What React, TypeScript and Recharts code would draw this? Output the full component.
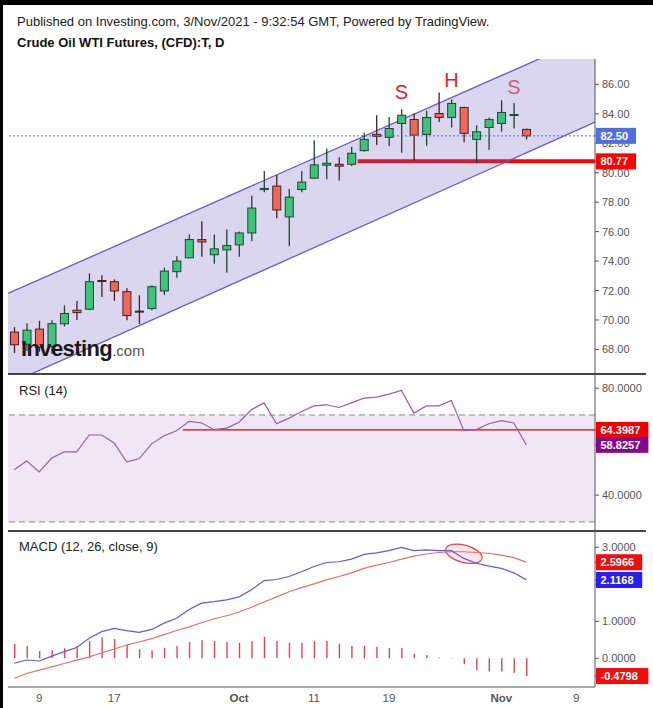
import React from "react";
import {
  ComposedChart,
  Bar,
  Line,
  XAxis,
  YAxis,
  ReferenceLine,
  ReferenceArea,
  ReferenceDot,
} from "recharts";

// trading days shown on the chart (last five are empty future slots)
const DATES = [
  "2021-09-07", "2021-09-08", "2021-09-09", "2021-09-10", "2021-09-13", "2021-09-14",
  "2021-09-15", "2021-09-16", "2021-09-17", "2021-09-20", "2021-09-21", "2021-09-22",
  "2021-09-23", "2021-09-24", "2021-09-27", "2021-09-28", "2021-09-29", "2021-09-30",
  "2021-10-01", "2021-10-04", "2021-10-05", "2021-10-06", "2021-10-07", "2021-10-08",
  "2021-10-11", "2021-10-12", "2021-10-13", "2021-10-14", "2021-10-15", "2021-10-18",
  "2021-10-19", "2021-10-20", "2021-10-21", "2021-10-22", "2021-10-25", "2021-10-26",
  "2021-10-27", "2021-10-28", "2021-10-29", "2021-11-01", "2021-11-02", "2021-11-03",
  "2021-11-04", "2021-11-05", "2021-11-08", "2021-11-09", "2021-11-10",
];

const OPEN = [
  69.18, 68.36, 69.38, 68.2, 69.74, 70.66, 70.73, 72.68, 72.6, 71.92, 70.6, 70.78,
  71.97, 73.28, 74.22, 75.46, 74.43, 74.76, 75.1, 75.91, 78.85, 79.09, 77.0, 78.86,
  79.63, 80.51, 80.57, 80.57, 81.5, 82.6, 82.4, 83.34, 83.61, 82.6, 84.02, 83.75,
  84.43, 82.26, 83.07, 83.34, 83.9, 82.94,
];
const HIGH = [
  69.51, 69.78, 69.94, 69.98, 71.0, 71.29, 73.16, 73.03, 72.76, 72.15, 71.68, 72.35,
  73.55, 74.33, 75.8, 76.7, 75.8, 76.14, 76.0, 78.43, 80.12, 79.85, 78.89, 80.12,
  82.2, 81.65, 81.05, 81.76, 82.71, 83.9, 83.79, 84.31, 84.02, 84.2, 85.44, 84.97,
  84.47, 83.23, 83.75, 84.92, 84.74, 83.0,
];
const LOW = [
  67.76, 67.9, 67.85, 67.7, 69.56, 70.0, 70.66, 71.56, 71.29, 69.99, 69.72, 70.66,
  71.7, 72.87, 74.2, 74.29, 73.82, 73.21, 74.29, 75.34, 78.68, 76.9, 75.0, 78.68,
  79.6, 79.56, 79.47, 80.46, 81.43, 81.88, 81.81, 81.36, 80.82, 81.83, 83.45, 83.07,
  82.06, 80.64, 81.54, 82.78, 83.0, 82.26,
];
const CLOSE = [
  68.32, 69.31, 68.14, 69.75, 70.44, 70.5, 72.6, 72.62, 71.97, 70.3, 70.55, 72.26,
  73.32, 74.0, 75.46, 75.3, 74.83, 75.05, 75.91, 77.6, 78.93, 77.47, 78.34, 79.36,
  80.53, 80.64, 80.44, 81.32, 82.26, 82.47, 83.0, 83.9, 82.55, 83.75, 83.75, 84.7,
  82.67, 82.78, 83.61, 84.09, 83.95, 82.5,
];

const RSI = [
  49.5, 52.8, 48.7, 53.9, 56.2, 56.2, 62.5, 62.5, 59.5, 52.5, 53.6, 59.2,
  62.2, 64.1, 67.6, 67.0, 64.5, 65.1, 67.3, 72.0, 74.5, 66.7, 68.8, 71.3,
  73.4, 73.8, 72.8, 74.5, 76.3, 76.7, 77.8, 79.2, 70.7, 73.4, 73.4, 75.4,
  64.1, 64.5, 66.7, 67.9, 67.0, 58.83,
];

const MACD = [
  -0.135, -0.046, -0.073, 0.06, 0.18, 0.29, 0.54, 0.72, 0.81, 0.75, 0.7, 0.78,
  0.95, 1.08, 1.32, 1.49, 1.53, 1.58, 1.66, 1.85, 2.1, 2.13, 2.21, 2.34,
  2.48, 2.59, 2.61, 2.68, 2.81, 2.85, 2.91, 3.0, 2.91, 2.93, 2.91, 2.91,
  2.7, 2.57, 2.49, 2.43, 2.31, 2.12,
];
const SIGNAL = [
  -0.54, -0.41, -0.32, -0.23, -0.14, -0.05, 0.04, 0.15, 0.25, 0.36, 0.44, 0.53,
  0.64, 0.75, 0.85, 0.96, 1.07, 1.15, 1.25, 1.38, 1.52, 1.66, 1.8, 1.91,
  2.01, 2.12, 2.21, 2.31, 2.43, 2.52, 2.59, 2.68, 2.76, 2.82, 2.86, 2.88,
  2.88, 2.86, 2.84, 2.79, 2.72, 2.6,
];
const HIST = [
  0.39, 0.33, 0.2, 0.22, 0.27, 0.33, 0.47, 0.56, 0.52, 0.36, 0.25, 0.22,
  0.28, 0.33, 0.44, 0.49, 0.47, 0.44, 0.42, 0.47, 0.58, 0.47, 0.42, 0.42,
  0.47, 0.47, 0.39, 0.33, 0.33, 0.31, 0.28, 0.28, 0.12, 0.09, 0.02, 0.01,
  -0.16, -0.32, -0.36, -0.36, -0.39, -0.48,
];

const TICK_DATES = ["2021-09-09", "2021-09-17", "2021-10-01", "2021-10-11", "2021-10-19", "2021-11-01", "2021-11-09"];
const TICK_LABELS = ["9", "17", "Oct", "11", "19", "Nov", "9"];

const PRICE_TICKS = [68, 70, 72, 74, 76, 78, 80, 82, 84, 86];
const RSI_TICKS = [40, 80];
const MACD_TICKS = [0, 1, 2, 3];

// last values / marked levels shown as boxes on the axes
const LAST_PRICE = 82.5;
const SUPPORT = 80.77;
const SUPPORT_FROM = "2021-10-15";
const RSI_LEVEL = 64.3987;
const RSI_LEVEL_FROM = "2021-09-27";
const RSI_LAST = 58.8257;
const SIGNAL_LAST = 2.5966;
const MACD_LAST = 2.1168;
const HIST_LAST = -0.4798;

// rising channel, value at left and right edge of the plot
const CHANNEL_UPPER = [71.8, 89.4];
const CHANNEL_LOWER = [65.63, 83.43];

// head & shoulders marks
const PATTERN_LABELS = ["S", "H", "S"];
const PATTERN_DATES = ["2021-10-20", "2021-10-26", "2021-11-02"];
const PATTERN_PRICES = [85.5, 86.3, 85.84];
const PATTERN_COLORS = ["#e8202a", "#e8202a", "#d9587a"];

// MACD cross circled
const CROSS_DATES = ["2021-10-26", "2021-10-28"];
const CROSS_RANGE = [2.55, 3.1];

const rows = DATES.map((d, i) => ({
  d,
  o: OPEN[i],
  h: HIGH[i],
  l: LOW[i],
  c: CLOSE[i],
  range: i < CLOSE.length ? [LOW[i], HIGH[i]] : null,
  rsi: RSI[i],
  macd: MACD[i],
  signal: SIGNAL[i],
  hist: HIST[i],
}));

const FONT = '"Liberation Sans", Arial, sans-serif';
const AXIS = "#555";
const W = 653;
const MARGIN = { top: 0, right: 0, bottom: 0, left: 8 };

function Candle(props: any) {
  const { x, y, width, height, payload } = props;
  if (payload == null || payload.o == null) return null;
  const top = Math.min(y, y + height);
  const hh = Math.abs(height);
  const { o, h, l, c } = payload;
  const k = h > l ? hh / (h - l) : 0;
  const py = (v: number) => top + (h - v) * k;
  const up = c >= o;
  const cx = x + width / 2;
  const b1 = py(Math.max(o, c));
  const b2 = py(Math.min(o, c));
  const edge = up ? "#1e4631" : "#4a1f1f";
  return (
    <g>
      <line x1={cx} x2={cx} y1={top} y2={top + hh} stroke={edge} strokeWidth={1.3} />
      <rect
        x={x + 0.5}
        y={b1}
        width={width - 1}
        height={Math.max(b2 - b1, 1)}
        fill={up ? "#3ec27c" : "#f0675b"}
        stroke={edge}
        strokeWidth={1}
      />
    </g>
  );
}

function Channel(p: any) {
  const top = CHANNEL_UPPER[1];
  const bottom = CHANNEL_LOWER[0];
  const k = p.height / (top - bottom);
  const py = (v: number) => p.y + (top - v) * k;
  const xl = p.x;
  const xr = p.x + p.width;
  const pts = `${xl},${py(CHANNEL_UPPER[0])} ${xr},${py(CHANNEL_UPPER[1])} ${xr},${py(CHANNEL_LOWER[1])} ${xl},${py(CHANNEL_LOWER[0])}`;
  return (
    <g>
      <polygon points={pts} fill="#6f5fc4" fillOpacity={0.26} />
      <line x1={xl} y1={py(CHANNEL_UPPER[0])} x2={xr} y2={py(CHANNEL_UPPER[1])} stroke="#6a5cc0" strokeWidth={1.3} />
      <line x1={xl} y1={py(CHANNEL_LOWER[0])} x2={xr} y2={py(CHANNEL_LOWER[1])} stroke="#6a5cc0" strokeWidth={1.3} />
    </g>
  );
}

const hLine = (color: string, w: number) => (p: any) => (
  <line x1={p.x} x2={p.x + p.width} y1={p.y} y2={p.y} stroke={color} strokeWidth={w} />
);

function CrossMark(p: any) {
  const cx = p.x + p.width / 2;
  const cy = p.y + p.height / 2;
  return (
    <ellipse
      cx={cx}
      cy={cy}
      rx={p.width / 2}
      ry={(p.height / 2) * 0.85}
      transform={`rotate(15 ${cx} ${cy})`}
      fill="rgba(225,70,70,0.13)"
      stroke="#e04848"
      strokeWidth={1.2}
    />
  );
}

function yTick(specials: { value: number; color: string }[], digits: number) {
  return function Tick(props: any) {
    const { x, y, payload } = props;
    const v = Number(payload.value);
    const text = v.toFixed(digits);
    const sp = specials.find((s) => s.value === v);
    if (sp) {
      const w = text.length * 6.2 + 9;
      return (
        <g>
          <rect x={x - 6} y={y - 8} width={w} height={16} fill={sp.color} />
          <text x={x - 1.5} y={y + 4} fill="#fff" fontSize={11} fontWeight="bold">
            {text}
          </text>
        </g>
      );
    }
    return (
      <text x={x} y={y + 4} fill="#555" fontSize={11}>
        {text}
      </text>
    );
  };
}

function DateTick(props: any) {
  const { x, y, payload } = props;
  const label = TICK_LABELS[TICK_DATES.indexOf(payload.value)];
  const month = isNaN(Number(label));
  return (
    <text x={x} y={y} dy={7} textAnchor="middle" fill="#555" fontSize={11.5} fontWeight={month ? "bold" : "normal"}>
      {label}
    </text>
  );
}

const PriceTick = yTick(
  [
    { value: SUPPORT, color: "#ff0000" },
    { value: LAST_PRICE, color: "#5070e0" },
  ],
  2
);
const RsiTick = yTick(
  [
    { value: RSI_LEVEL, color: "#f20000" },
    { value: RSI_LAST, color: "#84088c" },
  ],
  4
);
const MacdTick = yTick(
  [
    { value: SIGNAL_LAST, color: "#f00d0d" },
    { value: MACD_LAST, color: "#2a1df0" },
    { value: HIST_LAST, color: "#f00d0d" },
  ],
  4
);

const abs = (top: number, left: number): React.CSSProperties => ({ position: "absolute", top, left });

export default function App() {
  return (
    <div
      style={{
        position: "absolute",
        top: 0,
        left: 0,
        width: W,
        height: 708,
        background: "#fff",
        fontFamily: FONT,
        overflow: "hidden",
      }}
    >
      <div style={{ ...abs(0, 0), width: W, height: 5, background: "#000" }} />
      <div style={{ ...abs(0, 0), width: 3, height: 708, background: "#000" }} />

      <div style={{ ...abs(14.7, 17), fontSize: 13, lineHeight: "13px", color: "#222", whiteSpace: "nowrap" }}>
        Published on Investing.com, 3/Nov/2021 - 9:32:54 GMT, Powered by TradingView.
      </div>
      <div style={{ ...abs(36.3, 17), fontSize: 13, lineHeight: "13px", color: "#111", fontWeight: "bold", whiteSpace: "nowrap" }}>
        Crude Oil WTI Futures, (CFD):T, D
      </div>

      {/* price pane */}
      <div style={abs(59, 0)}>
        <ComposedChart width={W} height={314} data={rows} margin={MARGIN}>
          <XAxis dataKey="d" scale="band" hide height={0} />
          <YAxis
            orientation="right"
            width={58}
            domain={[66.4, 87.72]}
            allowDataOverflow
            ticks={[...PRICE_TICKS, SUPPORT, LAST_PRICE]}
            interval={0}
            tick={PriceTick}
            tickSize={4}
            tickMargin={3}
            axisLine={{ stroke: AXIS }}
            tickLine={{ stroke: AXIS }}
          />
          <ReferenceArea
            x1={SUPPORT_FROM}
            x2={DATES[DATES.length - 1]}
            y1={SUPPORT}
            y2={SUPPORT}
            shape={hLine("#ff0000", 4)}
          />
          {PATTERN_LABELS.map((lab, i) => (
            <ReferenceDot
              key={i}
              x={PATTERN_DATES[i]}
              y={PATTERN_PRICES[i]}
              r={0}
              ifOverflow="visible"
              shape={(s: any) => (
                <text x={s.cx} y={s.cy} dy={7} textAnchor="middle" fontSize={20} fill={PATTERN_COLORS[i]}>
                  {lab}
                </text>
              )}
            />
          ))}
          <ReferenceArea
            x1={DATES[0]}
            x2={DATES[DATES.length - 1]}
            y1={CHANNEL_LOWER[0]}
            y2={CHANNEL_UPPER[1]}
            ifOverflow="hidden"
            shape={Channel}
          />
          <ReferenceLine y={LAST_PRICE} stroke="#4d6fe0" strokeDasharray="2 2" strokeWidth={1} />
          <Bar dataKey="range" barSize={9} shape={Candle} isAnimationActive={false} />
        </ComposedChart>
      </div>

      <div style={{ ...abs(373, 8), width: 638, height: 1.5, background: "#444" }} />
      <div style={{ ...abs(530, 8), width: 638, height: 1.5, background: "#444" }} />

      {/* RSI pane */}
      <div style={abs(374, 0)}>
        <ComposedChart width={W} height={156} data={rows} margin={MARGIN}>
          <XAxis dataKey="d" scale="band" hide height={0} />
          <YAxis
            orientation="right"
            width={58}
            domain={[26.99, 85.31]}
            allowDataOverflow
            ticks={[...RSI_TICKS, RSI_LEVEL, RSI_LAST]}
            interval={0}
            tick={RsiTick}
            tickSize={4}
            tickMargin={3}
            axisLine={{ stroke: AXIS }}
            tickLine={{ stroke: AXIS }}
          />
          <ReferenceArea y1={30} y2={70} fill="#f1e6f5" fillOpacity={1} />
          <ReferenceLine y={70} stroke="#888" strokeDasharray="6 4" />
          <ReferenceLine y={30} stroke="#888" strokeDasharray="6 4" />
          <ReferenceArea
            x1={RSI_LEVEL_FROM}
            x2={DATES[DATES.length - 1]}
            y1={RSI_LEVEL}
            y2={RSI_LEVEL}
            shape={hLine("#e00000", 1.3)}
          />
          <Line dataKey="rsi" stroke="#9a5cae" strokeWidth={1.2} dot={false} activeDot={false} isAnimationActive={false} />
        </ComposedChart>
      </div>

      {/* MACD pane */}
      <div style={abs(530, 0)}>
        <ComposedChart width={W} height={178} data={rows} margin={MARGIN}>
          <XAxis
            dataKey="d"
            scale="band"
            height={21}
            ticks={TICK_DATES}
            interval={0}
            tick={DateTick}
            tickLine={false}
            axisLine={{ stroke: AXIS }}
          />
          <YAxis
            orientation="right"
            width={58}
            domain={[-0.776, 3.468]}
            allowDataOverflow
            ticks={[...MACD_TICKS, SIGNAL_LAST, MACD_LAST, HIST_LAST]}
            interval={0}
            tick={MacdTick}
            tickSize={4}
            tickMargin={3}
            axisLine={{ stroke: AXIS }}
            tickLine={{ stroke: AXIS }}
          />
          <Bar dataKey="hist" barSize={1.4} fill="#e0474c" isAnimationActive={false} />
          <Line dataKey="signal" stroke="#ee6b6b" strokeWidth={1.2} dot={false} activeDot={false} isAnimationActive={false} />
          <Line dataKey="macd" stroke="#5b5be6" strokeWidth={1.2} dot={false} activeDot={false} isAnimationActive={false} />
          <ReferenceArea
            x1={CROSS_DATES[0]}
            x2={CROSS_DATES[1]}
            y1={CROSS_RANGE[0]}
            y2={CROSS_RANGE[1]}
            shape={CrossMark}
          />
        </ComposedChart>
      </div>

      <div style={{ ...abs(338, 21), whiteSpace: "nowrap", lineHeight: "21px" }}>
        <span style={{ fontSize: 22, fontWeight: "bold", color: "#1a1a1a", letterSpacing: -0.6 }}>Investing</span>
        <span style={{ fontSize: 15, color: "#555" }}>.com</span>
      </div>
      <div style={{ ...abs(384, 19), fontSize: 13, lineHeight: "13px", color: "#222" }}>RSI (14)</div>
      <div style={{ ...abs(539.7, 19), fontSize: 13, lineHeight: "13px", color: "#222" }}>MACD (12, 26, close, 9)</div>
    </div>
  );
}
